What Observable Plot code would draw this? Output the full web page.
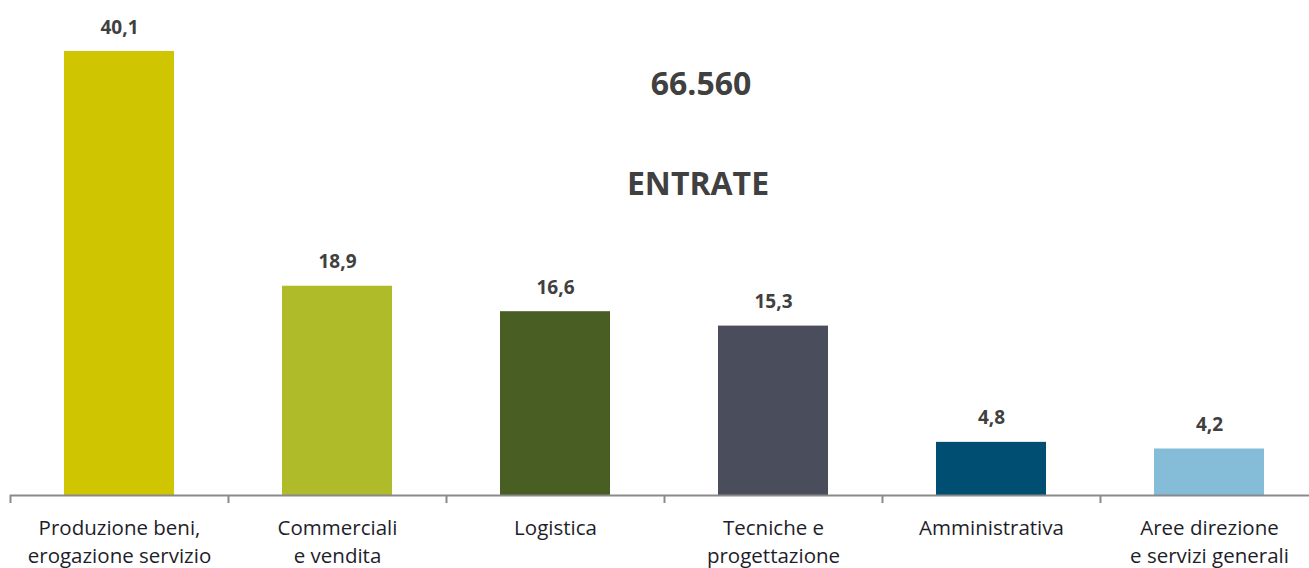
<!DOCTYPE html>
<html>
<head>
<meta charset="utf-8">
<script src="https://cdn.jsdelivr.net/npm/d3@7"></script>
<script src="https://cdn.jsdelivr.net/npm/@observablehq/plot@0.6"></script>
<style>
  html, body { margin: 0; padding: 0; background: #fff; }
  #chart svg { display: block; }
</style>
</head>
<body>
<div id="chart"></div>
<script>
const categories = [
  "Produzione beni,\nerogazione servizio",
  "Commerciali\ne vendita",
  "Logistica",
  "Tecniche e\nprogettazione",
  "Amministrativa",
  "Aree direzione\ne servizi generali"
];
const values = [40.1, 18.9, 16.6, 15.3, 4.8, 4.2];
const barColors = ["#CFC500", "#B0BB2A", "#485E22", "#4A4D5C", "#004F73", "#85BCD8"];
const totalLabel = "66.560";
const titleLabel = "ENTRATE";

const data = categories.map((c, i) => ({cat: c, value: values[i], color: barColors[i]}));
const fmt = v => v.toFixed(1).replace(".", ",");

const W = 1309, H = 568;
const chart = Plot.plot({
  width: W,
  height: H,
  marginLeft: 10,
  marginRight: 0,
  marginTop: 0,
  marginBottom: 73,
  style: {fontFamily: "'Open Sans', Lato, sans-serif", background: "#fff"},
  x: {domain: categories, range: [10, 1318], padding: 0, label: null},
  y: {domain: [0, 40.1], range: [495, 51], axis: null},
  color: {type: "identity"},
  marks: [
    Plot.barY(data, {x: "cat", y: "value", fill: "color", insetLeft: 54, insetRight: 54}),
    Plot.text(data, {x: "cat", y: "value", text: d => fmt(d.value), dy: -24, fontSize: 19, fontWeight: "bold", fill: "#404040"}),
    Plot.ruleY([0], {stroke: "#8a8a8a", strokeWidth: 2}),
    Plot.axisX({tickSize: 0, tickPadding: 20, fontSize: 20.5, lineHeight: 1.36, color: "#1e1e2a", label: null}),
    Plot.axisX({tickSize: 8, tickFormat: () => "", dx: -109, stroke: "#8a8a8a", strokeWidth: 2, label: null}),
    Plot.text([totalLabel], {frameAnchor: "top", dx: 41, dy: 84, lineAnchor: "middle", fontSize: 32, fontWeight: "bold", fill: "#404040"}),
    Plot.text([titleLabel], {frameAnchor: "top", dx: 38, dy: 184, lineAnchor: "middle", fontSize: 32, fontWeight: "bold", fill: "#404040"})
  ]
});
document.getElementById("chart").appendChild(chart);
</script>
</body>
</html>
